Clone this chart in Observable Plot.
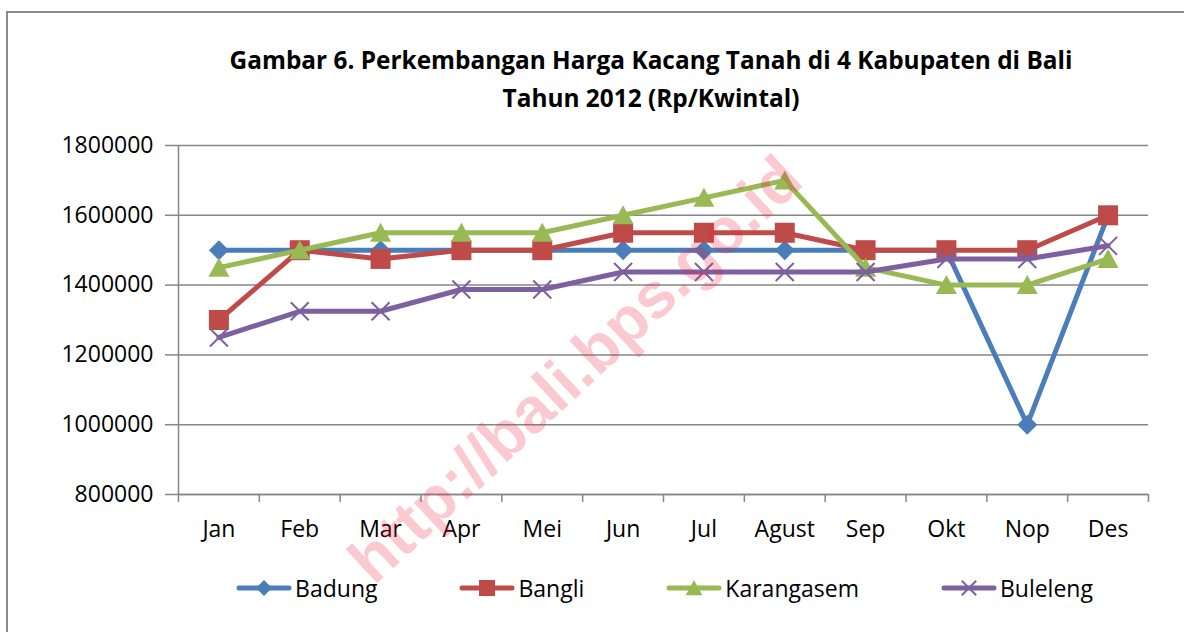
<!DOCTYPE html>
<html>
<head>
<meta charset="utf-8">
<script src="https://cdn.jsdelivr.net/npm/d3@7"></script>
<script src="https://cdn.jsdelivr.net/npm/@observablehq/plot@0.6"></script>
<style>
  html, body { margin: 0; padding: 0; background: #fff; }
  body { width: 1184px; height: 632px; overflow: hidden; position: relative; font-family: "Open Sans", sans-serif; color: #000; }
  #frame { position: absolute; left: 6px; top: 11px; width: 1220px; height: 700px; border: 2px solid #8a8a8a; box-sizing: border-box; }
  #title { position: absolute; left: 0; top: 40.5px; width: 1302px; text-align: center; font-weight: bold; font-size: 24.4px; line-height: 38px; }
  #chart { position: absolute; left: 0; top: 0; }
  #legend { position: absolute; left: 0; top: 573px; width: 1329px; height: 30px; display: flex; justify-content: center; align-items: center; gap: 82px; font-size: 23px; line-height: 30px; }
  .item { display: flex; align-items: center; gap: 3px; }
  .item svg { display: block; }
  #wm { position: absolute; left: 575px; top: 369px; transform: translate(-50%, -50%) rotate(-43deg); white-space: nowrap;
        font-family: "Liberation Sans", Arial, sans-serif; font-weight: bold; font-size: 64px; line-height: 1.1; color: rgba(240, 30, 60, 0.24); pointer-events: none; }
</style>
</head>
<body>
<div id="frame"></div>
<div id="title">Gambar 6. Perkembangan Harga Kacang Tanah di 4 Kabupaten di Bali<br>Tahun 2012 (Rp/Kwintal)</div>
<div id="chart"></div>
<div id="legend"></div>
<div id="wm">http://bali.bps.go.id</div>
<script>
// ---- data ----
const months = ["Jan", "Feb", "Mar", "Apr", "Mei", "Jun", "Jul", "Agust", "Sep", "Okt", "Nop", "Des"];
const seriesNames = ["Badung", "Bangli", "Karangasem", "Buleleng"];
const badung     = [1500000, 1500000, 1500000, 1500000, 1500000, 1500000, 1500000, 1500000, 1500000, 1500000, 1000000, 1600000];
const bangli     = [1300000, 1500000, 1475000, 1500000, 1500000, 1550000, 1550000, 1550000, 1500000, 1500000, 1500000, 1600000];
const karangasem = [1450000, 1500000, 1550000, 1550000, 1550000, 1600000, 1650000, 1700000, 1450000, 1400000, 1400000, 1475000];
const buleleng   = [1250000, 1325000, 1325000, 1387500, 1387500, 1437500, 1437500, 1437500, 1437500, 1475000, 1475000, 1512500];
const yTicks = [800000, 1000000, 1200000, 1400000, 1600000, 1800000];

const seriesValues = [badung, bangli, karangasem, buleleng];
const colors = ["#4A7EBB", "#BE4B48", "#98B954", "#7D60A0"];

// ---- custom Excel-like marker symbols ----
const rOf = size => Math.sqrt(size / Math.PI);
const diamond = { draw(c, s) { const r = rOf(s); c.moveTo(0, -r); c.lineTo(r, 0); c.lineTo(0, r); c.lineTo(-r, 0); c.closePath(); } };
const square = { draw(c, s) { const r = rOf(s); c.moveTo(-r, -r); c.lineTo(r, -r); c.lineTo(r, r); c.lineTo(-r, r); c.closePath(); } };
const triangle = { draw(c, s) { const r = rOf(s); c.moveTo(0, -r); c.lineTo(1.05 * r, 0.9 * r); c.lineTo(-1.05 * r, 0.9 * r); c.closePath(); } };
const cross = { draw(c, s) { const r = rOf(s) * 0.9; c.moveTo(-r, -r); c.lineTo(r, r); c.moveTo(r, -r); c.lineTo(-r, r); } };
const symbols = [diamond, square, triangle, cross];

const data = seriesNames.flatMap((name, k) =>
  seriesValues[k].map((v, i) => ({ series: name, i, month: months[i], value: v })));

const seriesMarks = seriesNames.flatMap((name, k) => {
  const rows = data.filter(d => d.series === name);
  const isCross = symbols[k] === cross;
  return [
    Plot.line(rows, { x: "i", y: "value", stroke: colors[k], strokeWidth: 5, strokeLinejoin: "round", strokeLinecap: "round" }),
    Plot.dot(rows, {
      x: "i", y: "value", r: 10, symbol: () => symbols[k],
      fill: isCross ? "none" : colors[k], stroke: isCross ? colors[k] : "none", strokeWidth: isCross ? 2 : 0
    })
  ];
});

const chart = Plot.plot({
  width: 1184,
  height: 560,
  marginLeft: 178,
  marginRight: 36,
  marginTop: 145,
  marginBottom: 66,
  style: { fontFamily: "'Open Sans', sans-serif", background: "transparent", overflow: "visible" },
  x: { type: "linear", domain: [-0.5, 11.5] },
  y: { type: "linear", domain: [800000, 1800000] },
  marks: [
    Plot.gridY(yTicks, { stroke: "#868686", strokeOpacity: 1, strokeWidth: 1.5 }),
    Plot.ruleX([-0.5], { stroke: "#868686", strokeWidth: 1.5 }),
    Plot.ruleY([800000], { stroke: "#868686", strokeWidth: 1.5 }),
    Plot.axisY({ ticks: yTicks, tickSize: 13, tickPadding: 12, tickFormat: d => String(d), label: null,
                 stroke: "#868686", strokeWidth: 1.5, fill: "#000", fontSize: 23 }),
    Plot.axisX({ ticks: d3.range(-0.5, 12, 1), tickSize: 8, tickFormat: () => "", label: null,
                 stroke: "#868686", strokeWidth: 1.5 }),
    Plot.axisX({ ticks: d3.range(0, 12), tickSize: 0, tickPadding: 26, tickFormat: i => months[i], label: null,
                 fill: "#000", fontSize: 23 }),
    ...seriesMarks
  ]
});
document.getElementById("chart").appendChild(chart);

// ---- legend ----
const legend = d3.select("#legend");
seriesNames.forEach((name, k) => {
  const item = legend.append("div").attr("class", "item");
  const svg = item.append("svg").attr("width", 56).attr("height", 30);
  svg.append("line").attr("x1", 3).attr("x2", 53).attr("y1", 15).attr("y2", 15)
    .attr("stroke", colors[k]).attr("stroke-width", 5).attr("stroke-linecap", "round");
  const p = d3.path();
  symbols[k].draw(p, 8 * 8 * Math.PI);
  const isCross = symbols[k] === cross;
  svg.append("path").attr("transform", "translate(28,15)").attr("d", p.toString())
    .attr("fill", isCross ? "none" : colors[k]).attr("stroke", isCross ? colors[k] : "none").attr("stroke-width", isCross ? 2 : 0);
  item.append("span").text(name);
});
</script>
</body>
</html>
